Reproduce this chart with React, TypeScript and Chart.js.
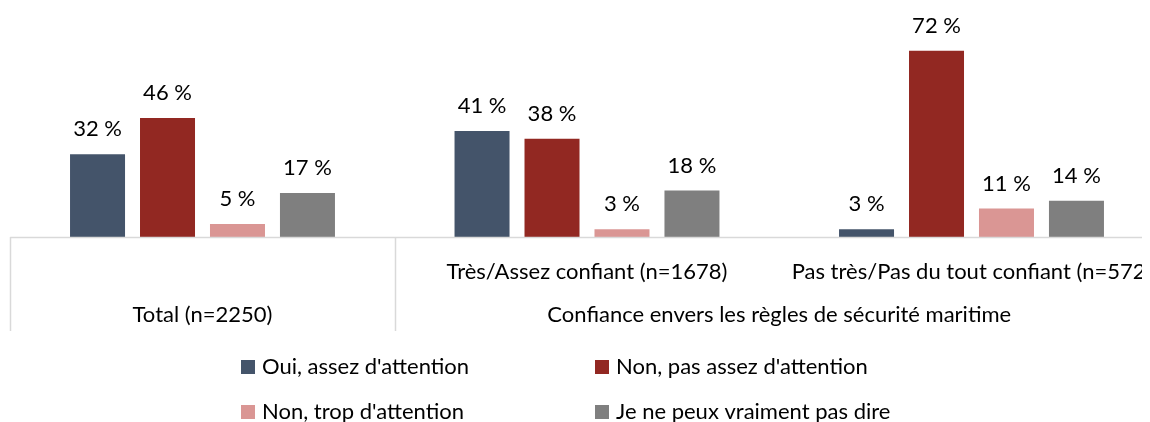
import React, { useEffect, useRef } from "react";
import { Chart, registerables } from "chart.js";

Chart.register(...registerables);

const subCategories = ["", "Très/Assez confiant (n=1678)", "Pas très/Pas du tout confiant (n=572)"];
const groupLabels = ["Total (n=2250)", "Confiance envers les règles de sécurité maritime"];
const groupStart = [0, 1];
const groupEnd = [0, 2];

const seriesNames = [
  "Oui, assez d'attention",
  "Non, pas assez d'attention",
  "Non, trop d'attention",
  "Je ne peux vraiment pas dire",
];
const ouiValues = [32, 41, 3];
const nonPasAssezValues = [46, 38, 72];
const nonTropValues = [5, 3, 11];
const nePeuxValues = [17, 18, 14];
const seriesColors = ["#44546a", "#922822", "#da9694", "#7f7f7f"];

const FONT = "Lato";
const FS = 22;

const overlayPlugin = {
  id: "overlay",
  afterDraw(chart: any) {
    const ctx = chart.ctx as CanvasRenderingContext2D;
    const area = chart.chartArea;
    const xs = chart.scales.x;
    const half = (xs.getPixelForValue(1) - xs.getPixelForValue(0)) / 2;
    ctx.save();
    // axis line
    ctx.strokeStyle = "#d9d9d9";
    ctx.lineWidth = 1.5;
    ctx.beginPath();
    ctx.moveTo(area.left, area.bottom + 0.5);
    ctx.lineTo(area.right, area.bottom + 0.5);
    ctx.stroke();
    // dividers between groups
    const bounds: number[] = [];
    groupStart.forEach((s, i) => {
      bounds.push(xs.getPixelForValue(s) - half);
      bounds.push(xs.getPixelForValue(groupEnd[i]) + half);
    });
    ctx.beginPath();
    Array.from(new Set(bounds.map((b) => Math.round(b)))).forEach((b) => {
      ctx.moveTo(b + 0.5, area.bottom);
      ctx.lineTo(b + 0.5, area.bottom + 94);
    });
    ctx.stroke();

    ctx.fillStyle = "#000";
    ctx.font = `${FS}px ${FONT}`;
    ctx.textAlign = "center";
    ctx.textBaseline = "middle";
    subCategories.forEach((lab, i) => {
      if (lab) ctx.fillText(lab, xs.getPixelForValue(i), area.bottom + 35);
    });
    groupLabels.forEach((lab, i) => {
      const cx = (xs.getPixelForValue(groupStart[i]) + xs.getPixelForValue(groupEnd[i])) / 2;
      ctx.fillText(lab, cx, area.bottom + 78);
    });

    // data labels
    chart.data.datasets.forEach((ds: any, di: number) => {
      const meta = chart.getDatasetMeta(di);
      meta.data.forEach((el: any, j: number) => {
        ctx.fillText(`${ds.data[j]} %`, el.x, el.y - 25);
      });
    });

    // legend
    const colX = [233, 587];
    const rowY = [359, 404];
    ctx.textAlign = "left";
    chart.data.datasets.forEach((ds: any, di: number) => {
      const cx = colX[di % 2];
      const cy = rowY[Math.floor(di / 2)];
      ctx.fillStyle = ds.backgroundColor;
      ctx.fillRect(cx, cy - 7, 14, 14);
      ctx.fillStyle = "#000";
      ctx.fillText(ds.label, cx + 21, cy);
    });
    ctx.restore();
  },
};

export default function App() {
  const ref = useRef<HTMLCanvasElement | null>(null);
  useEffect(() => {
    if (!ref.current) return;
    const valueSets = [ouiValues, nonPasAssezValues, nonTropValues, nePeuxValues];
    const chart = new Chart(ref.current, {
      type: "bar",
      data: {
        labels: subCategories.map((s, i) => s || groupLabels[0]),
        datasets: seriesNames.map((name, i) => ({
          label: name,
          data: valueSets[i],
          backgroundColor: seriesColors[i],
          categoryPercentage: 0.728,
          barPercentage: 0.786,
        })),
      },
      options: {
        responsive: false,
        animation: false,
        layout: { padding: { left: 2.25, right: 4.25, top: 22, bottom: 185 } },
        plugins: { legend: { display: false }, tooltip: { enabled: false } },
        scales: {
          x: { display: false },
          y: { display: false, min: 0, max: 80 },
        },
      },
      plugins: [overlayPlugin],
    });
    return () => chart.destroy();
  }, []);
  return (
    <div style={{ width: 1142, height: 414, overflow: "hidden" }}>
      <canvas ref={ref} width={1160} height={414} style={{ width: 1160, height: 414, display: "block" }} />
    </div>
  );
}
